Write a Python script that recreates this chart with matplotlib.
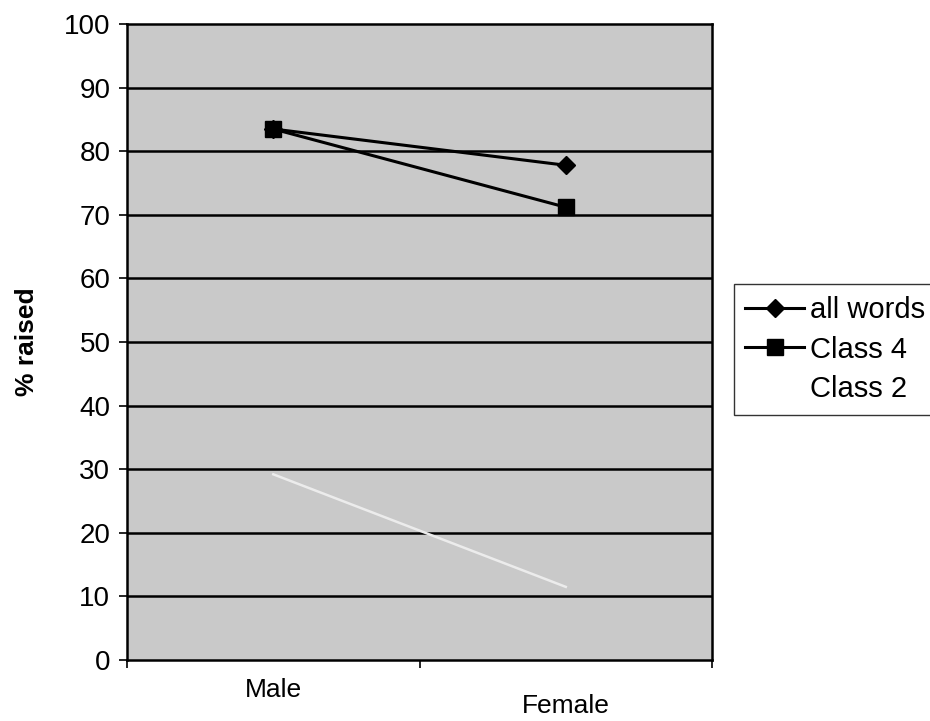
import matplotlib.pyplot as plt
import numpy as np

categories = ["Male", "Female"]
all_words = [83.5, 77.8]
class_4 = [83.5, 71.2]
class_2 = [29.2, 11.5]
y_ticks = list(range(0, 101, 10))

plt.rcParams["font.family"] = ["Liberation Sans", "DejaVu Sans"]


def main():
    fig = plt.figure(figsize=(9.3, 7.21), dpi=100)
    ax = fig.add_axes([0.1366, 0.0846, 0.629, 0.882])
    ax.set_facecolor("#c9c9c9")
    xs = np.arange(len(categories))

    for y in y_ticks[1:-1]:
        ax.axhline(y, color="black", lw=1.8, zorder=1)

    ax.plot(xs, all_words, color="black", lw=2.2, marker="D", ms=9,
            label="all words", zorder=3)
    ax.plot(xs, class_4, color="black", lw=2.2, marker="s", ms=11,
            label="Class 4", zorder=3)
    ax.plot(xs, class_2, color="#ececec", lw=1.8, label="Class 2", zorder=2)

    ax.set_xlim(-0.5, 1.5)
    ax.set_ylim(0, 100)
    ax.set_yticks(y_ticks)
    ax.set_xticks([-0.5, 0.5, 1.5])
    ax.set_xticklabels([])
    ax.tick_params(axis="x", which="major", length=6, width=1.2, direction="out")
    ax.tick_params(axis="y", length=6, width=1.2, direction="out", labelsize=20, pad=6)
    for s in ax.spines.values():
        s.set_linewidth(1.8)
        s.set_color("black")

    # category labels, staggered as in the original
    offsets = [-30, -46]
    for x, name, off in zip(xs, categories, offsets):
        ax.annotate(name, xy=(x, 0), xycoords=("data", "axes fraction"),
                    xytext=(0, off), textcoords="offset pixels",
                    ha="center", va="center", fontsize=19)

    ax.set_ylabel("% raised", fontsize=19, fontweight="bold", labelpad=18)

    leg = ax.legend(loc="center left", bbox_to_anchor=(0.789, 0.515),
                    bbox_transform=fig.transFigure, fontsize=21,
                    frameon=True, fancybox=False, edgecolor="black",
                    handlelength=2.0, handletextpad=0.2, borderpad=0.4,
                    labelspacing=0.4, borderaxespad=0)
    leg.get_frame().set_linewidth(1.0)
    leg.legend_handles[2].set_color("white")

    fig.savefig("out.png", dpi=100)


if __name__ == "__main__":
    main()
